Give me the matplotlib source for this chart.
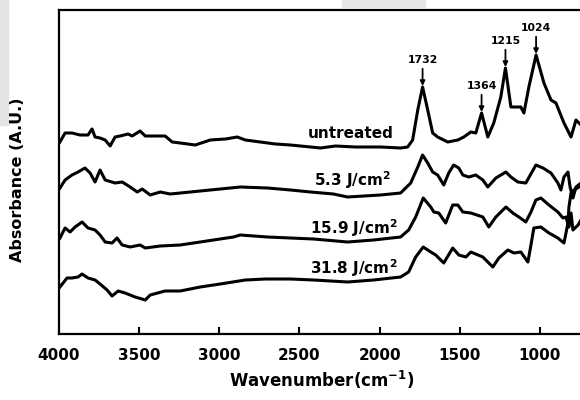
import numpy as np
import matplotlib.pyplot as plt
from matplotlib.patches import Rectangle

# FTIR spectra, absorbance in arbitrary (offset) units
wn_untreated = [3994, 3962, 3919, 3869, 3819, 3794, 3775, 3744, 3712, 3681, 3650, 3619,
                3569, 3544, 3494, 3462, 3400, 3338, 3294, 3244, 3150, 3056, 2962, 2888,
                2838, 2744, 2650, 2556, 2431, 2369, 2275, 2150, 1994, 1869, 1825, 1794,
                1762, 1732, 1700, 1669, 1638, 1575, 1512, 1475, 1431, 1400, 1364, 1325,
                1288, 1244, 1215, 1181, 1119, 1100, 1069, 1024, 975, 931, 900, 850,
                806, 775, 744]
abs_untreated = [1.92, 2.01, 2.01, 1.99, 1.99, 2.05, 1.97, 1.96, 1.94, 1.88, 1.97, 1.98,
                 2.00, 1.98, 2.03, 1.98, 1.98, 1.98, 1.92, 1.91, 1.89, 1.94, 1.95, 1.97,
                 1.94, 1.92, 1.90, 1.89, 1.87, 1.86, 1.88, 1.87, 1.87, 1.86, 1.87, 1.94,
                 2.24, 2.47, 2.24, 2.01, 1.97, 1.92, 1.94, 1.97, 2.02, 2.01, 2.21, 1.97,
                 2.11, 2.37, 2.66, 2.27, 2.27, 2.21, 2.47, 2.79, 2.51, 2.34, 2.31, 2.11,
                 1.97, 2.14, 2.09]

wn_5_3 = [3994, 3962, 3919, 3881, 3838, 3806, 3775, 3744, 3712, 3650, 3606, 3556,
          3512, 3481, 3431, 3369, 3306, 3244, 3181, 3119, 2994, 2869, 2700, 2556,
          2431, 2288, 2200, 1994, 1869, 1806, 1762, 1732, 1700, 1669, 1638, 1600,
          1569, 1538, 1506, 1481, 1444, 1400, 1356, 1325, 1275, 1212, 1181, 1138,
          1088, 1025, 981, 931, 888, 869, 850, 825, 812, 794, 775, 744]
abs_5_3 = [1.46, 1.54, 1.59, 1.62, 1.66, 1.61, 1.52, 1.64, 1.54, 1.51, 1.52, 1.47,
           1.42, 1.45, 1.39, 1.42, 1.40, 1.41, 1.42, 1.43, 1.45, 1.47, 1.46, 1.44,
           1.42, 1.40, 1.37, 1.39, 1.41, 1.51, 1.67, 1.79, 1.71, 1.62, 1.59, 1.49,
           1.61, 1.69, 1.66, 1.59, 1.57, 1.59, 1.54, 1.47, 1.56, 1.62, 1.57, 1.52,
           1.51, 1.69, 1.66, 1.61, 1.51, 1.44, 1.57, 1.62, 1.47, 1.36, 1.47, 1.51]

wn_15_9 = [3994, 3962, 3931, 3900, 3856, 3819, 3775, 3744, 3712, 3669, 3638, 3606,
           3556, 3494, 3462, 3369, 3244, 3119, 2912, 2869, 2700, 2556, 2412, 2200,
           2038, 1869, 1819, 1775, 1728, 1681, 1662, 1631, 1588, 1544, 1512, 1481,
           1431, 1356, 1319, 1275, 1212, 1169, 1131, 1088, 1056, 1025, 994, 944,
           888, 856, 838, 819, 806, 794, 762, 744]
abs_15_9 = [0.96, 1.06, 1.02, 1.07, 1.12, 1.06, 1.04, 0.99, 0.92, 0.91, 0.96, 0.89,
            0.87, 0.89, 0.86, 0.88, 0.89, 0.92, 0.97, 0.99, 0.97, 0.96, 0.95, 0.92,
            0.94, 0.97, 1.04, 1.17, 1.36, 1.27, 1.22, 1.21, 1.11, 1.29, 1.29, 1.22,
            1.21, 1.17, 1.07, 1.17, 1.27, 1.21, 1.17, 1.12, 1.22, 1.34, 1.36, 1.29,
            1.22, 1.16, 1.17, 1.07, 1.21, 1.04, 1.09, 1.14]

wn_31_8 = [3994, 3950, 3919, 3881, 3856, 3819, 3775, 3744, 3700, 3669, 3631, 3588,
           3525, 3462, 3431, 3338, 3244, 3119, 2994, 2838, 2712, 2556, 2412, 2200,
           2038, 1869, 1819, 1775, 1728, 1681, 1650, 1600, 1544, 1506, 1462, 1431,
           1356, 1294, 1256, 1200, 1162, 1119, 1075, 1056, 1038, 994, 944, 888,
           850, 825, 819, 806, 788, 756]
abs_31_8 = [0.47, 0.56, 0.56, 0.57, 0.60, 0.56, 0.54, 0.50, 0.44, 0.38, 0.43, 0.41,
            0.37, 0.34, 0.39, 0.43, 0.43, 0.47, 0.50, 0.54, 0.55, 0.55, 0.54, 0.52,
            0.54, 0.57, 0.62, 0.77, 0.87, 0.82, 0.79, 0.71, 0.86, 0.79, 0.77, 0.82,
            0.77, 0.67, 0.76, 0.84, 0.81, 0.82, 0.72, 0.89, 1.06, 1.07, 1.01, 0.96,
            0.91, 1.11, 1.27, 1.41, 1.44, 1.47]

curve_labels = ['untreated', r'5.3 J/cm$^{\mathbf{2}}$',
                r'15.9 J/cm$^{\mathbf{2}}$', r'31.8 J/cm$^{\mathbf{2}}$']
peak_wn = [1732, 1364, 1215, 1024]
peak_labels = ['1732', '1364', '1215', '1024']
xticks = [4000, 3500, 3000, 2500, 2000, 1500, 1000]

fig = plt.figure(figsize=(5.8, 4), dpi=100)
ax = fig.add_axes([59 / 580, 66 / 400, 521 / 580, 324 / 400])

# faint grey scan artifacts from the source page
fig.patches.append(Rectangle((0, 275 / 400), 8 / 580, 125 / 400, transform=fig.transFigure,
                             color='#e4e4e4', zorder=0))
fig.patches.append(Rectangle((342 / 580, 393 / 400), 83 / 580, 7 / 400, transform=fig.transFigure,
                             color='#e6e6e6', zorder=0))

series = [(wn_untreated, abs_untreated), (wn_5_3, abs_5_3),
          (wn_15_9, abs_15_9), (wn_31_8, abs_31_8)]
label_pos = [(1912, 2.01), (1931, 1.54), (1888, 1.06), (1888, 0.66)]

for (wn, a), lab, (lx, ly) in zip(series, curve_labels, label_pos):
    ax.plot(wn, a, color='black', lw=2.2, solid_joinstyle='round')
    ax.text(lx, ly, lab, ha='right', va='center', fontsize=11, fontweight='bold')

# peak markers on the untreated spectrum
wn_u = np.array(wn_untreated)[::-1]
a_u = np.array(abs_untreated)[::-1]
for w, lab in zip(peak_wn, peak_labels):
    y = np.interp(w, wn_u, a_u)
    ax.annotate(lab, xy=(w, y + 0.01), xytext=(0, 19), textcoords='offset points',
                ha='center', va='center', fontsize=7.8, fontweight='bold',
                arrowprops=dict(arrowstyle='-|>', color='black', lw=1.3,
                                mutation_scale=7, shrinkA=1, shrinkB=0))

ax.set_xlim(4000, 750)
ax.set_ylim(0, 3.24)
ax.set_xticks(xticks)
ax.set_yticks([])
ax.tick_params(axis='x', direction='in', length=5, width=1.5, pad=10, labelsize=11)
for t in ax.get_xticklabels():
    t.set_fontweight('bold')

ax.spines['right'].set_visible(False)
for s in ['left', 'top', 'bottom']:
    ax.spines[s].set_linewidth(1.6)

fig.text(322 / 580, 1 - 380 / 400, r'Wavenumber(cm$^{\mathbf{-1}}$)', ha='center', va='center',
         fontsize=12, fontweight='bold')
fig.text(18 / 580, 1 - 180 / 400, 'Absorbance (A.U.)', ha='center', va='center',
         rotation=90, fontsize=11.5, fontweight='bold')

fig.savefig('out.png', dpi=100)
